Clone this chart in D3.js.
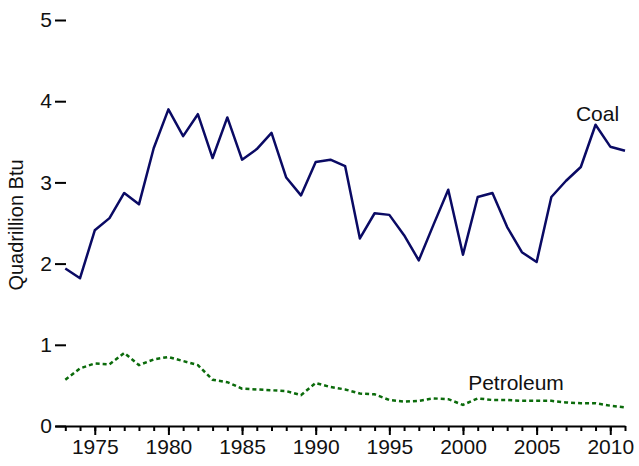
<!DOCTYPE html>
<html>
<head>
<meta charset="utf-8">
<script src="https://cdn.jsdelivr.net/npm/d3@7"></script>
<style>
  body { margin: 0; background: #fff; }
  svg { display: block; font-family: "Liberation Sans", Arial, sans-serif; }
  .axis text { font-size: 21px; fill: #111; }
  .axis path, .axis line { stroke: #000; stroke-width: 2; }
</style>
</head>
<body>
<svg id="chart"></svg>
<script>
// Coal vs petroleum, quadrillion Btu, 1973-2011
const years = d3.range(1973, 2012);
const coal = [1.94, 1.82, 2.41, 2.56, 2.87, 2.73, 3.42, 3.90, 3.57, 3.84,
  3.30, 3.80, 3.28, 3.41, 3.61, 3.06, 2.84, 3.25, 3.28, 3.20,
  2.31, 2.62, 2.60, 2.35, 2.04, 2.48, 2.91, 2.11, 2.82, 2.87,
  2.45, 2.14, 2.02, 2.82, 3.02, 3.19, 3.71, 3.44, 3.39];
const petroleum = [0.57, 0.71, 0.77, 0.76, 0.90, 0.75, 0.82, 0.85, 0.80, 0.75,
  0.57, 0.54, 0.46, 0.45, 0.44, 0.43, 0.38, 0.53, 0.48, 0.45,
  0.40, 0.39, 0.32, 0.30, 0.31, 0.34, 0.33, 0.26, 0.34, 0.32,
  0.32, 0.31, 0.31, 0.31, 0.29, 0.28, 0.28, 0.25, 0.23];
const yTicks = [0, 1, 2, 3, 4, 5];
const majorYears = [1975, 1980, 1985, 1990, 1995, 2000, 2005, 2010];

const width = 639, height = 466;
const margin = {top: 20, right: 14, bottom: 40, left: 55};
const w = width - margin.left - margin.right;
const h = height - margin.top - margin.bottom;

const svg = d3.select('#chart')
  .attr('width', width)
  .attr('height', height);

const g = svg.append('g')
  .attr('transform', `translate(${margin.left},${margin.top})`);

const x = d3.scaleLinear().domain([1972.3, 2011]).range([0, w]);
const y = d3.scaleLinear().domain([0, 5]).range([h, 0]);

// y ticks point into the plot, no axis line
g.append('g')
  .attr('class', 'axis y-axis')
  .attr('transform', 'translate(11,0)')
  .call(d3.axisLeft(y).tickValues(yTicks).tickSize(11).tickPadding(3).tickFormat(d3.format('d')))
  .call(a => a.select('.domain').remove());

// minor year ticks
g.append('g')
  .attr('class', 'axis x-minor')
  .attr('transform', `translate(0,${h})`)
  .call(d3.axisBottom(x).tickValues(years).tickSize(5).tickSizeOuter(0).tickFormat(''));

// major ticks + labels
g.append('g')
  .attr('class', 'axis x-axis')
  .attr('transform', `translate(0,${h})`)
  .call(d3.axisBottom(x).tickValues(majorYears).tickSize(9).tickSizeOuter(0).tickPadding(4).tickFormat(d3.format('d')))
  .call(a => a.select('.domain').remove());

const line = d3.line()
  .x((d, i) => x(years[i]))
  .y(d => y(d));

g.append('path')
  .datum(coal)
  .attr('fill', 'none')
  .attr('stroke', '#0a0a64')
  .attr('stroke-width', 2.5)
  .attr('stroke-linejoin', 'round')
  .attr('d', line);

g.append('path')
  .datum(petroleum)
  .attr('fill', 'none')
  .attr('stroke', '#0b6b0b')
  .attr('stroke-width', 2.5)
  .attr('stroke-dasharray', '4,3')
  .attr('d', line);

// series labels
g.append('text')
  .attr('x', x(2009) + 2)
  .attr('y', y(3.71) - 4)
  .attr('text-anchor', 'middle')
  .style('font-size', '21px')
  .attr('fill', '#111')
  .text('Coal');

g.append('text')
  .attr('x', x(2003.6))
  .attr('y', y(0.44))
  .attr('text-anchor', 'middle')
  .style('font-size', '21px')
  .attr('fill', '#111')
  .text('Petroleum');

// y axis title
svg.append('text')
  .attr('transform', 'translate(23,225) rotate(-90)')
  .attr('text-anchor', 'middle')
  .style('font-size', '20px')
  .attr('fill', '#111')
  .text('Quadrillion Btu');
</script>
</body>
</html>
